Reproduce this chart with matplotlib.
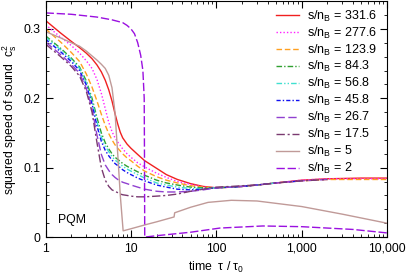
import numpy as np
import matplotlib
matplotlib.use("Agg")
import matplotlib.pyplot as plt
from matplotlib.ticker import FuncFormatter, MultipleLocator, LogLocator

plt.rcParams['font.family'] = ['Liberation Sans', 'DejaVu Sans']
plt.rcParams['mathtext.default'] = 'regular'

# time grid tau / tau0
tau = [1, 1.5, 2, 2.5, 3, 3.5, 4, 4.5, 5, 5.5, 6, 6.5, 7, 7.5, 8, 9, 10, 12, 14.5,
       20, 26, 35, 50, 70, 100, 150, 200, 300, 500, 1000, 2000, 5000, 10000]

# squared speed of sound for each s/n_B
cs_331 = [0.312, 0.294, 0.282, 0.273, 0.265, 0.257, 0.248, 0.238, 0.226, 0.212, 0.196, 0.178, 0.163,
          0.151, 0.143, 0.134, 0.128, 0.119, 0.110, 0.099, 0.090, 0.083, 0.077, 0.073, 0.071, 0.072,
          0.073, 0.075, 0.078, 0.082, 0.084, 0.085, 0.085]
cs_277 = [0.306, 0.288, 0.276, 0.265, 0.254, 0.243, 0.227, 0.207, 0.185, 0.165, 0.152, 0.143, 0.137,
          0.132, 0.127, 0.120, 0.115, 0.107, 0.101, 0.092, 0.086, 0.080, 0.076, 0.072, 0.071, 0.072,
          0.073, 0.075, 0.078, 0.082, 0.084, 0.084, 0.084]
cs_123 = [0.300, 0.281, 0.266, 0.253, 0.235, 0.216, 0.196, 0.177, 0.161, 0.149, 0.140, 0.133, 0.128,
          0.124, 0.120, 0.114, 0.110, 0.102, 0.095, 0.087, 0.082, 0.078, 0.074, 0.072, 0.071, 0.072,
          0.073, 0.075, 0.078, 0.081, 0.083, 0.083, 0.083]
cs_84 = [0.290, 0.272, 0.258, 0.245, 0.225, 0.200, 0.172, 0.150, 0.136, 0.127, 0.120, 0.115, 0.112,
         0.109, 0.106, 0.102, 0.099, 0.094, 0.089, 0.082, 0.078, 0.075, 0.072, 0.071, 0.071, 0.072,
         0.073, 0.075, 0.078]
cs_56 = [0.288, 0.270, 0.256, 0.243, 0.222, 0.196, 0.166, 0.144, 0.131, 0.123, 0.116, 0.111, 0.108,
         0.105, 0.102, 0.098, 0.095, 0.090, 0.085, 0.078, 0.075, 0.072, 0.070, 0.070, 0.071, 0.072,
         0.073, 0.075, 0.078]
cs_45 = [0.285, 0.267, 0.253, 0.240, 0.219, 0.192, 0.160, 0.138, 0.125, 0.117, 0.111, 0.106, 0.103,
         0.100, 0.097, 0.093, 0.090, 0.085, 0.081, 0.075, 0.072, 0.069, 0.068, 0.069, 0.071, 0.072,
         0.073, 0.075, 0.078, 0.081]
cs_26 = [0.281, 0.263, 0.249, 0.236, 0.214, 0.185, 0.147, 0.119, 0.104, 0.096, 0.090, 0.086, 0.083,
         0.081, 0.079, 0.077, 0.075, 0.072, 0.069, 0.066, 0.065, 0.065, 0.066, 0.068, 0.071, 0.072,
         0.073, 0.075, 0.078, 0.081, 0.083]
cs_17 = [0.278, 0.260, 0.246, 0.232, 0.210, 0.180, 0.136, 0.100, 0.082, 0.073, 0.068, 0.066, 0.064,
         0.062, 0.061, 0.060, 0.059, 0.058, 0.058, 0.059, 0.060, 0.062, 0.066, 0.069, 0.072, 0.073,
         0.074, 0.075, 0.078, 0.081, 0.083]

# s/n_B = 5: drops to a minimum near tau = 8, small jump near tau = 32
tau_5 = [1, 1.5, 2, 2.5, 3, 3.5, 4, 4.5, 5, 5.5, 6, 6.5, 7, 7.5, 8.1, 10, 15, 20, 32, 32.5,
         50, 80, 150, 300, 1000, 3000, 10000]
cs_5 = [0.296, 0.287, 0.280, 0.275, 0.268, 0.261, 0.255, 0.249, 0.243, 0.233, 0.215, 0.180, 0.120,
        0.060, 0.009, 0.012, 0.018, 0.022, 0.029, 0.035, 0.043, 0.050, 0.053, 0.052, 0.044, 0.033, 0.020]

# s/n_B = 2: flat until the sharp drop at tau ~ 14.4
tau_2 = [1, 2, 4, 6, 8, 9, 10, 11, 12, 13, 13.8, 14.3, 14.4, 14.5, 20, 50, 110, 350, 1000, 4000, 10000]
cs_2 = [0.323, 0.321, 0.317, 0.313, 0.309, 0.305, 0.300, 0.293, 0.280, 0.262, 0.240, 0.200, 0.120,
        0.000, 0.002, 0.007, 0.013, 0.016, 0.015, 0.011, 0.006]

labels = ["331.6", "277.6", "123.9", "84.3", "56.8", "45.8", "26.7", "17.5", "5", "2"]

fig = plt.figure(figsize=(4.07, 2.76), dpi=100)
ax = fig.add_axes([0.112, 0.141, 0.839, 0.855])

series = [
    (tau, cs_331, "#f02020", "-"),
    (tau, cs_277, "#ff20ff", (0, (1, 1.5))),
    (tau, cs_123, "#ffa020", (0, (4, 2))),
    (tau, cs_84, "#30a030", (0, (4, 1.5, 1, 1.5))),
    (tau, cs_56, "#40e0d0", (0, (4, 1.5, 1, 1.5, 1, 1.5))),
    (tau, cs_45, "#1010f0", (0, (3, 1.5, 1, 1.5))),
    (tau, cs_26, "#9040d0", (0, (6, 2.5))),
    (tau, cs_17, "#7a3a70", (0, (6, 2, 1.5, 2))),
    (tau_5, cs_5, "#c09a98", "-"),
    (tau_2, cs_2, "#9a10e0", (0, (6, 2))),
]

for (x, y, c, ls), lab in zip(series, labels):
    ax.plot(x[:len(y)], y, color=c, linestyle=ls, linewidth=1.0,
            label="s/n$_B$ = " + lab)

ax.set_xscale("log")
ax.set_xlim(1, 10000)
ax.set_ylim(0, 0.34)
ax.yaxis.set_major_locator(MultipleLocator(0.1))
ax.yaxis.set_minor_locator(MultipleLocator(0.02))
ax.yaxis.set_major_formatter(FuncFormatter(lambda v, p: "0" if v == 0 else f"{v:.1f}"))
ax.xaxis.set_major_locator(LogLocator(base=10))
ax.xaxis.set_minor_locator(LogLocator(base=10, subs=np.arange(2, 10)))
ax.xaxis.set_major_formatter(FuncFormatter(lambda v, p: f"{int(round(v)):,}"))
ax.tick_params(which="both", direction="in", top=True, right=True, labelsize=8.8, pad=4)
ax.tick_params(which="major", length=5)
ax.tick_params(which="minor", length=2.5)

ax.set_xlabel(r"time  $\tau$ / $\tau_0$", fontsize=8.8, labelpad=4)
ax.set_ylabel(r"squared speed of sound  $c_s^2$", fontsize=8.8, labelpad=3)
ax.text(1.4, 0.024, "PQM", fontsize=8.8, va="center")

ax.legend(loc="upper right", bbox_to_anchor=(0.985, 0.99), frameon=False, fontsize=9,
          handlelength=1.85, handletextpad=0.65, labelspacing=0.15,
          borderaxespad=0, borderpad=0.4)

fig.savefig("out.png", dpi=100)
